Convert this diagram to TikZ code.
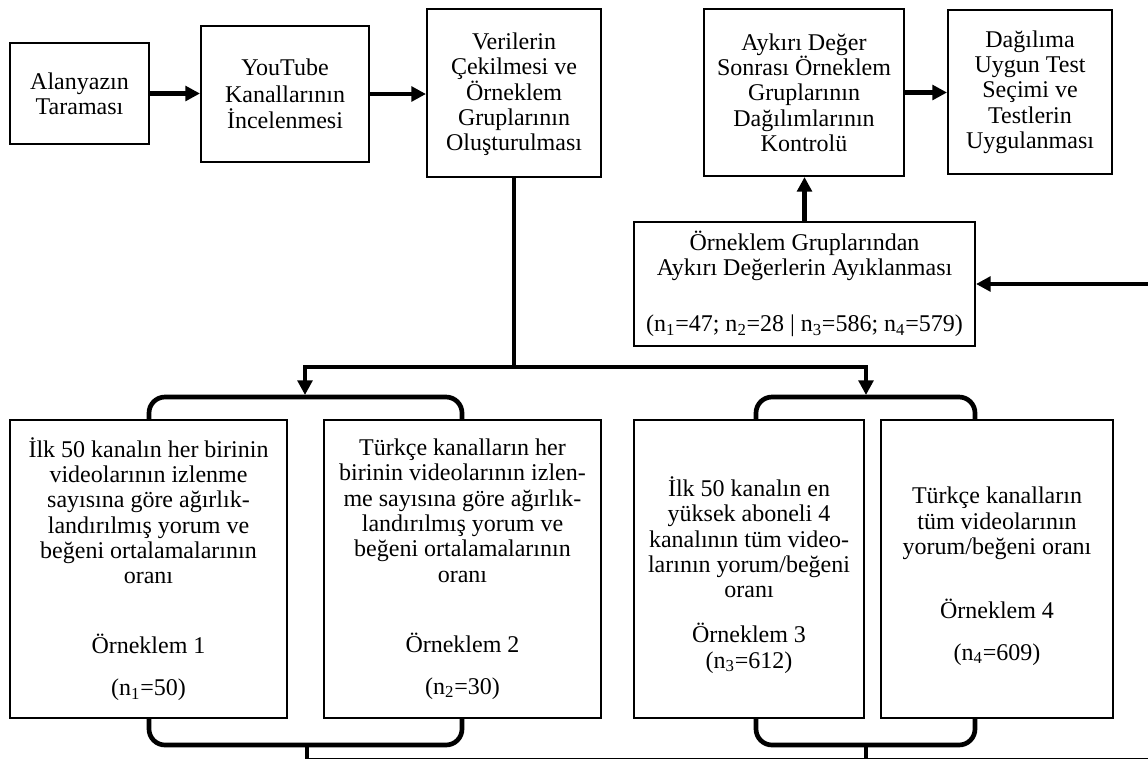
\documentclass[tikz,border=0pt]{standalone}
\usepackage{fontspec}
\setmainfont{Liberation Serif}
\usetikzlibrary{arrows.meta,fit,calc}
\begin{document}
\begin{tikzpicture}[x=0.75pt,y=-0.75pt,
  box/.style={draw, line width=1.5pt, inner sep=0pt},
  txt/.style={align=center, inner sep=0pt, font=\fontsize{18}{19}\selectfont},
  conn/.style={line width=3.5pt},
  arr/.style={conn, -{Triangle[length=11pt,width=11pt]}},
  brk/.style={line width=3.5pt, rounded corners=12pt},
]
\useasboundingbox (0,0) rectangle (1148,758);
\fill[white] (0,0) rectangle (1148,758);
\clip (0,0) rectangle (1148,758);

% boxes
\node[box, fit={(10,43) (149,144)}] (A) {};
\node[box, fit={(201,26) (369,162)}] (B) {};
\node[box, fit={(427,9) (601,177)}] (C) {};
\node[box, fit={(704,9) (904,176)}] (D) {};
\node[box, fit={(948,10) (1112,174)}] (E) {};
\node[box, fit={(634,222) (975,346)}] (F) {};
\node[box, fit={(10,420) (287,718)}] (S1) {};
\node[box, fit={(324,420) (601,718)}] (S2) {};
\node[box, fit={(634,420) (864,718)}] (S3) {};
\node[box, fit={(881,420) (1113,718)}] (S4) {};

% texts
\node[txt] (At) at (A.center) {Alanyazın\\Taraması};
\node[txt, font=\fontsize{18}{20}\selectfont] (Bt) at (B.center) {YouTube\\Kanallarının\\İncelenmesi};
\node[txt, yshift=-1pt] (Ct) at (C.center) {Verilerin\\Çekilmesi ve\\Örneklem\\Gruplarının\\Oluşturulması};
\node[txt] (Dt) at (D.center) {Aykırı Değer\\Sonrası Örneklem\\Gruplarının\\Dağılımlarının\\Kontrolü};
\node[txt] (Et) at (E.center) {Dağılıma\\Uygun Test\\Seçimi ve\\Testlerin\\Uygulanması};
\node[txt] (Ft) at (F.center) {Örneklem Gruplarından\\Aykırı Değerlerin Ayıklanması\\[22.75pt](n\textsubscript{1}=47; n\textsubscript{2}=28 | n\textsubscript{3}=586; n\textsubscript{4}=579)};
\node[txt] (S1t) at (S1.center) {İlk 50 kanalın her birinin\\videolarının izlenme\\sayısına göre ağırlık-\\landırılmış yorum ve\\beğeni ortalamalarının\\oranı\\[33.5pt]Örneklem 1\\[12.5pt](n\textsubscript{1}=50)};
\node[txt] (S2t) at (S2.center) {Türkçe kanalların her\\birinin videolarının izlen-\\me sayısına göre ağırlık-\\landırılmış yorum ve\\beğeni ortalamalarının\\oranı\\[33.5pt]Örneklem 2\\[12.5pt](n\textsubscript{2}=30)};
\node[txt, yshift=-4.5pt] (S3t) at (S3.center) {İlk 50 kanalın en\\yüksek aboneli 4\\kanalının tüm video-\\larının yorum/beğeni\\oranı\\[14.75pt]Örneklem 3\\(n\textsubscript{3}=612)};
\node[txt, yshift=-5.5pt] (S4t) at (S4.center) {Türkçe kanalların\\tüm videolarının\\yorum/beğeni oranı\\[29pt]Örneklem 4\\[12.5pt](n\textsubscript{4}=609)};

% top row arrows
\draw[arr] (A.east) -- (B.west |- A.east);
\draw[arr] (B.east) -- (C.west |- B.east);
\draw[arr] (D.east) -- (E.west |- D.east);
\draw[arr] (F.north) -- (D.south -| F.north);

% split from C to the two bracket groups
\coordinate (j) at (C.south |- 0,367);
\coordinate (g1) at (305,395);
\coordinate (g2) at (866,395);
\draw[conn] (C.south) -- (j);
\draw[arr] (j) -| (g1);
\draw[arr] (j) -| (g2);

% brackets
\draw[brk] (149,420) -- (149,397) -- (462,397) -- (462,420);
\draw[brk] (756,420) -- (756,397) -- (975,397) -- (975,420);
\draw[brk] (149,718) -- (149,745) -- (462,745) -- (462,718);
\draw[brk] (756,718) -- (756,745) -- (975,745) -- (975,718);

% return path (cropped at picture edge)
\coordinate (h1) at (307,745);
\coordinate (h2) at (866,745);
\coordinate (r) at (1180,760);
\draw[arr] (h1) -- (307,760) -- (r) |- (F.east);
\draw[conn] (h2) -- (866,760);
\end{tikzpicture}
\end{document}
